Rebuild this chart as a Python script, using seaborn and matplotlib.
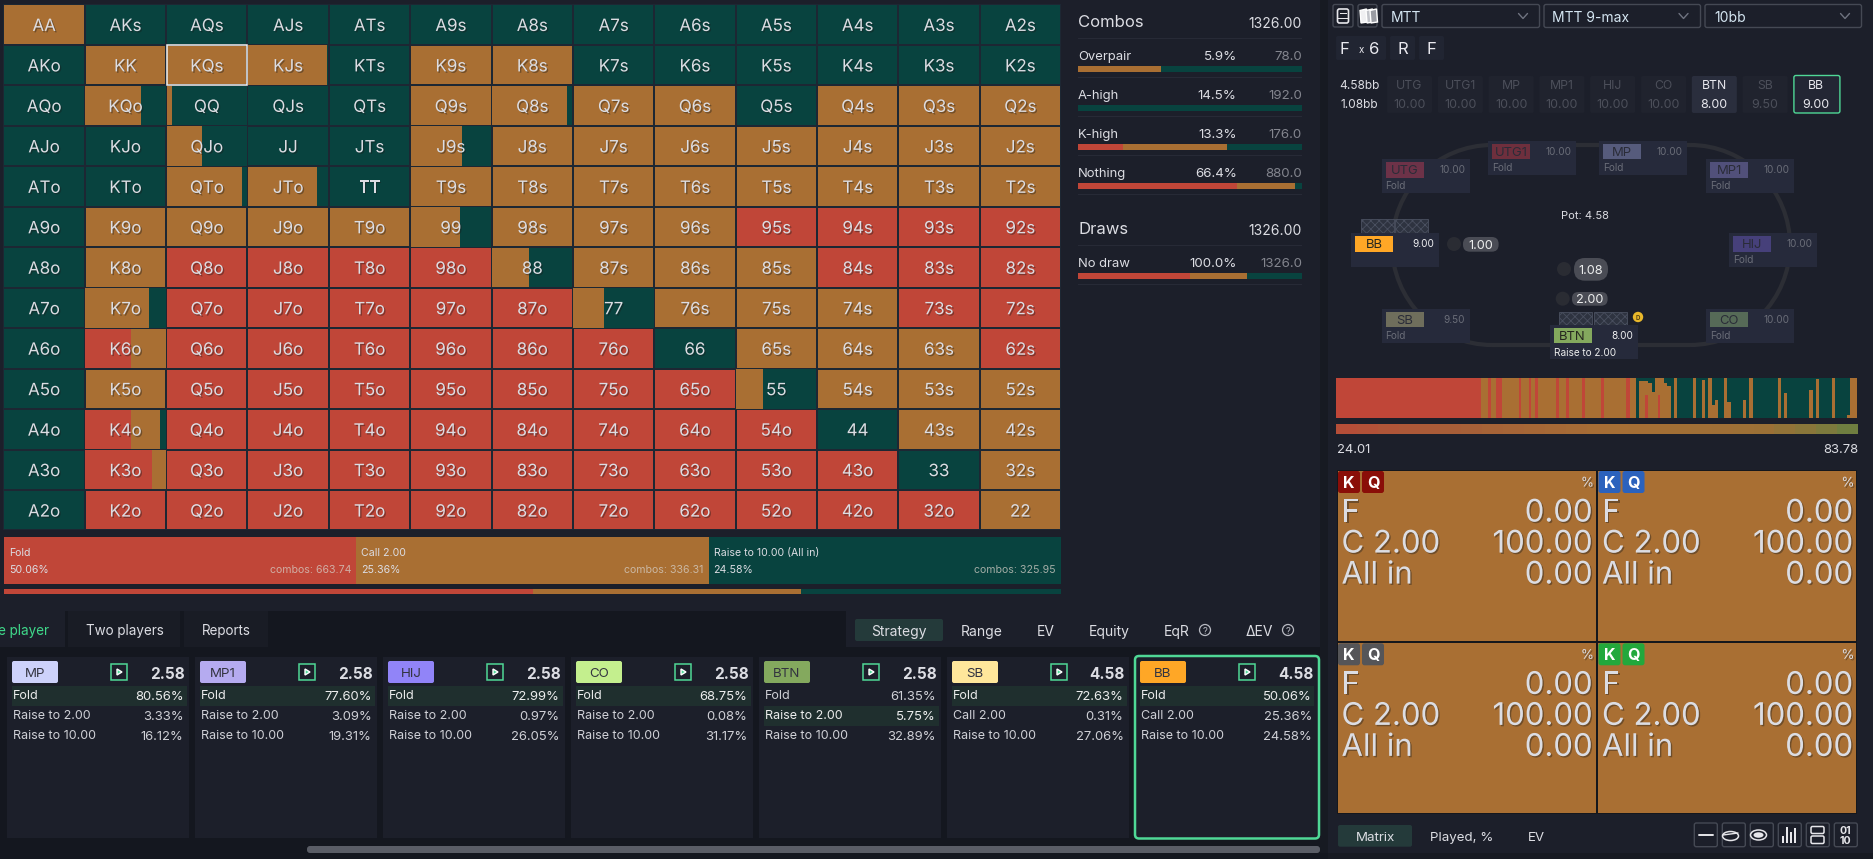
import numpy as np
import matplotlib
matplotlib.use("Agg")
import matplotlib.pyplot as plt
import matplotlib.patheffects as pe
from matplotlib.colors import ListedColormap, LinearSegmentedColormap
from matplotlib.patches import Rectangle, FancyBboxPatch, Circle, Ellipse, Polygon, Arc
import seaborn as sns

sns.set_theme(style="dark")
plt.rcParams["font.family"] = ["Inter", "DejaVu Sans"]
plt.rcParams["hatch.linewidth"] = 0.6

# ---- data ----
ranks = ["A", "K", "Q", "J", "T", "9", "8", "7", "6", "5", "4", "3", "2"]

# percent of each hand per action, rows and columns in rank order, raise is the rest
fold_grid = [
    [0, 0, 0, 0, 0, 0, 0, 0, 0, 0, 0, 0, 0],
    [0, 0, 0, 0, 0, 0, 0, 0, 0, 0, 0, 0, 0],
    [0, 0, 0, 0, 0, 0, 0, 0, 0, 0, 0, 0, 0],
    [0, 0, 0, 0, 0, 0, 0, 0, 0, 0, 0, 0, 0],
    [0, 0, 0, 0, 0, 0, 0, 0, 0, 0, 0, 0, 0],
    [0, 0, 0, 0, 0, 0, 0, 0, 0, 100, 100, 100, 100],
    [0, 0, 100, 100, 100, 100, 0, 0, 0, 0, 100, 100, 100],
    [0, 0, 100, 100, 100, 100, 100, 0, 0, 0, 0, 100, 100],
    [0, 57, 100, 100, 100, 100, 100, 100, 0, 0, 0, 0, 100],
    [0, 0, 100, 100, 100, 100, 100, 100, 100, 0, 0, 0, 0],
    [0, 57, 100, 100, 100, 100, 100, 100, 100, 100, 0, 0, 0],
    [0, 83, 100, 100, 100, 100, 100, 100, 100, 100, 100, 0, 0],
    [0, 100, 100, 100, 100, 100, 100, 100, 100, 100, 100, 100, 0],
]
call_grid = [
    [100, 0, 0, 0, 0, 0, 0, 0, 0, 0, 0, 0, 0],
    [0, 100, 100, 98, 0, 100, 100, 0, 0, 0, 0, 0, 0],
    [0, 70, 7, 0, 0, 100, 94, 100, 100, 0, 100, 100, 100],
    [0, 0, 44, 0, 0, 64, 100, 100, 100, 100, 100, 100, 100],
    [0, 0, 94, 86, 0, 100, 100, 100, 100, 100, 100, 100, 100],
    [0, 100, 100, 100, 100, 61, 100, 100, 100, 0, 0, 0, 0],
    [0, 100, 0, 0, 0, 0, 46, 100, 100, 100, 0, 0, 0],
    [0, 80, 0, 0, 0, 0, 0, 38, 100, 100, 100, 0, 0],
    [0, 43, 0, 0, 0, 0, 0, 0, 0, 100, 100, 100, 0],
    [0, 100, 0, 0, 0, 0, 0, 0, 0, 33, 100, 100, 100],
    [0, 36, 0, 0, 0, 0, 0, 0, 0, 0, 0, 100, 100],
    [0, 17, 0, 0, 0, 0, 0, 0, 0, 0, 0, 0, 100],
    [0, 0, 0, 0, 0, 0, 0, 0, 0, 0, 0, 0, 100],
]

strategy_names = ["Fold", "Call 2.00", "Raise to 10.00 (All in)"]
strategy_pct = [50.06, 25.36, 24.58]
strategy_combos = [663.74, 336.31, 325.95]

combo_rows = ["Overpair", "A-high", "K-high", "Nothing"]
combo_share = ["5.9%", "14.5%", "13.3%", "66.4%"]
combo_counts = ["78.0", "192.0", "176.0", "880.0"]
combo_mix = [[0, 37, 63], [0, 0, 100], [20, 46.5, 33.5], [71, 26, 3]]
draw_mix = [50, 25.4, 24.6]

card_positions = ["MP", "MP1", "HIJ", "CO", "BTN", "SB", "BB"]
card_pots = ["2.58", "2.58", "2.58", "2.58", "2.58", "4.58", "4.58"]
card_colors = ["#cdd2fa", "#b5abf0", "#9184f8", "#c4ef8e", "#84a95e", "#ffe79b", "#ffa726"]
card_actions = [
    ["Fold", "Raise to 2.00", "Raise to 10.00"],
    ["Fold", "Raise to 2.00", "Raise to 10.00"],
    ["Fold", "Raise to 2.00", "Raise to 10.00"],
    ["Fold", "Raise to 2.00", "Raise to 10.00"],
    ["Fold", "Raise to 2.00", "Raise to 10.00"],
    ["Fold", "Call 2.00", "Raise to 10.00"],
    ["Fold", "Call 2.00", "Raise to 10.00"],
]
card_values = [
    ["80.56%", "3.33%", "16.12%"],
    ["77.60%", "3.09%", "19.31%"],
    ["72.99%", "0.97%", "26.05%"],
    ["68.75%", "0.08%", "31.17%"],
    ["61.35%", "5.75%", "32.89%"],
    ["72.63%", "0.31%", "27.06%"],
    ["50.06%", "25.36%", "24.58%"],
]
card_best = [0, 0, 0, 0, 1, 0, 0]

seat_names = ["UTG", "UTG1", "MP", "MP1", "HIJ", "CO", "BTN", "SB", "BB"]
seat_stacks = ["10.00", "10.00", "10.00", "10.00", "10.00", "10.00", "8.00", "9.50", "9.00"]

# range strip: combos per column, with percent fold and call in that column
range_combos = [369, 18.5, 8, 13, 16, 41.5, 7, 18.5, 7, 8, 8, 47.5, 8, 16, 9, 32, 8, 40.5, 7, 56.5, 10, 16, 7,
                16, 7, 10.5, 7, 9, 6, 9, 9, 9, 7, 8, 42, 6, 15, 8, 8, 10, 8, 7, 16, 7, 10.5, 31, 7, 9, 9,
                64.5, 7, 8, 8, 56.5, 10, 7, 8, 33.5, 7, 31, 8, 17.5]
range_fold = [100, 0, 100, 0, 100, 0, 100, 0, 100, 0, 100, 0, 100, 0, 100, 0, 100, 0, 100, 0, 100, 0, 0,
              0, 58, 0, 0, 0, 58, 0, 0, 0, 0, 0, 0, 0, 0, 0, 0, 0, 0, 0, 0, 0, 0, 0, 0, 0, 0,
              0, 0, 0, 0, 0, 0, 0, 0, 0, 0, 0, 0, 0]
range_call = [0, 100, 0, 100, 0, 100, 0, 100, 0, 100, 0, 100, 0, 100, 0, 100, 0, 100, 0, 100, 0, 100, 0,
              92, 35, 87, 66, 100, 42, 100, 88, 80, 0, 100, 0, 100, 0, 95, 0, 100, 33, 45, 0, 100, 39, 0, 45, 0, 100,
              0, 100, 0, 62, 0, 70, 0, 97, 0, 100, 0, 7, 100]

ev_curve = [24.01, 27, 30, 33, 35, 38, 40, 43, 45, 47, 49, 51, 53, 55, 57, 59, 61, 63, 65, 67, 69, 72, 75, 79, 83.78]
ev_ends = ["24.01", "83.78"]

hand_suits = ["#8a0e08", "#2b62bd", "#555558", "#22a83c"]
hand_cards = ["K", "Q"]
hand_actions = ["F", "C 2.00", "All in"]
hand_values = ["0.00", "100.00", "0.00"]
hand_call = [[100, 100], [100, 100]]

# ---- colours ----
RED = "#c04638"
ORANGE = "#a96f33"
GREEN = "#08433f"
BG = "#1c1f2a"
DARK = "#14171f"
TEXT = "#dcdde3"
DIM = "#6a6d78"
ACCENT = "#4fd896"
action_colors = [RED, ORANGE, GREEN]

W, H = 1873, 859
fig = plt.figure(figsize=((W + 0.01) / 100, (H + 0.01) / 100), dpi=100, facecolor=BG)
shadow = [pe.SimplePatchShadow(offset=(1, -1), shadow_rgbFace="k", alpha=0.4), pe.Normal()]


def px_axes(x0, y0, x1, y1, z=1):
    a = fig.add_axes([x0 / W, 1 - y1 / H, (x1 - x0) / W, (y1 - y0) / H], zorder=z)
    a.patch.set_alpha(0)
    a.set_axis_off()
    return a


def mix_bar(x0, y0, x1, y1, values):
    a = px_axes(x0, y0, x1, y1, z=2)
    left = 0
    for v, c in zip(values, action_colors):
        a.barh(0.5, v, left=left, height=1, color=c, linewidth=0)
        left += v
    a.set_xlim(0, sum(values))
    a.set_ylim(0, 1)
    return a


bg = px_axes(0, 0, W, H, z=0)
bg.set_xlim(0, W)
bg.set_ylim(H, 0)
ui = px_axes(0, 0, W, H, z=5)
ui.set_xlim(0, W)
ui.set_ylim(H, 0)


def box(x0, y0, x1, y1, color, edge="none", lw=0, r=0, a=ui, **kw):
    if r:
        p = FancyBboxPatch((x0 + r, y0 + r), x1 - x0 - 2 * r, y1 - y0 - 2 * r,
                           boxstyle=f"round,pad={r},rounding_size={r}",
                           facecolor=color, edgecolor=edge, linewidth=lw, **kw)
    else:
        p = Rectangle((x0, y0), x1 - x0, y1 - y0, facecolor=color, edgecolor=edge, linewidth=lw, **kw)
    a.add_patch(p)
    return p


def txt(x, y, s, size=9, color=TEXT, ha="left", weight="normal", **kw):
    # va center leaves room for descenders, push down so capitals sit on y
    return ui.text(x, y + 0.16 * size, s, fontsize=size, color=color, ha=ha, va="center", weight=weight, **kw)


# background strips
box(1320, 0, 1328, H, "#171a22", a=bg)
box(0, 611, 846, 647, DARK, a=bg)
box(0, 647, 1320, H, DARK, a=bg)
box(0, 853, W, H, DARK, a=bg)
box(1328, 853, W, H, "#171a22", a=bg)

# ---- hand grid ----
labels = []
for i, r1 in enumerate(ranks):
    row = []
    for j, r2 in enumerate(ranks):
        if i == j:
            row.append(r1 + r2)
        elif j > i:
            row.append(r1 + r2 + "s")
        else:
            row.append(r2 + r1 + "o")
    labels.append(row)

fold_arr = np.array(fold_grid, dtype=float)
call_arr = np.array(call_grid, dtype=float)
raise_arr = 100 - fold_arr - call_arr
mix = np.stack([fold_arr, call_arr, raise_arr], axis=2)

ax = px_axes(3.4, 4.4, 1061, 530.5, z=2)
sns.heatmap(mix.argmax(axis=2), annot=np.array(labels), fmt="", cmap=ListedColormap(action_colors),
            vmin=0, vmax=2, cbar=False, linewidths=1.1, linecolor="#1d2733", ax=ax,
            xticklabels=False, yticklabels=False,
            annot_kws={"fontsize": 12.2, "color": TEXT, "path_effects": shadow})
for t in ax.texts:
    tx, ty = t.get_position()
    t.set_position((tx, ty + 0.045))
for i in range(13):
    for j in range(13):
        if mix[i, j].max() < 100:
            left = j + 0.007
            for k in range(3):
                w = mix[i, j, k] / 100 * 0.986
                ax.barh(i + 0.5, w, left=left, height=0.973, color=action_colors[k], linewidth=0, zorder=1.5)
                left += w
ax.set_axis_off()
ax.add_patch(Rectangle((2.006, 1.012), 0.988, 0.976, fill=False, edgecolor="#f2f2f2", linewidth=1.1, zorder=2))

# ---- strategy buttons under the grid ----
edges = [4, 356, 708.5, 1060.6]
for i in range(3):
    box(edges[i], 537, edges[i + 1], 583.7, action_colors[i], a=bg)
    txt(edges[i] + 5, 551.7, strategy_names[i], 7.6)
    txt(edges[i] + 5, 569, f"{strategy_pct[i]:.2f}%", 7.6)
    txt(edges[i + 1] - 5, 569, f"combos: {strategy_combos[i]:.2f}", 7.6, color="#d6d0c8", ha="right", alpha=0.75)
mix_bar(4, 589, 1060.6, 594, strategy_pct)

# ---- combos panel ----
TX0, TX1, PCT = 1078, 1302, 1236.7
txt(TX0, 21, "Combos", 12)
txt(TX1, 22, "1326.00", 10, ha="right")
box(TX0, 38, TX1, 39, "#272a36")
for i, name in enumerate(combo_rows):
    cy = 55 + i * 39
    txt(TX0, cy, name, 9.4)
    txt(PCT, cy, combo_share[i], 9.6, ha="right")
    txt(TX1, cy, combo_counts[i], 9.6, color="#83858e", ha="right")
    mix_bar(TX0, cy + 11, TX1, cy + 17, combo_mix[i])
    box(TX0, cy + 22, TX1, cy + 23, "#272a36")
txt(TX0, 228, "Draws", 12)
txt(TX1, 229, "1326.00", 10, ha="right")
box(TX0, 245, TX1, 246, "#272a36")
txt(TX0, 262, "No draw", 9.4)
txt(PCT, 262, "100.0%", 9.6, ha="right")
txt(TX1, 262, "1326.0", 9.6, color="#83858e", ha="right")
mix_bar(TX0, 273, TX1, 279, draw_mix)
box(TX0, 284, TX1, 285, "#272a36")

# ---- tabs ----
box(0, 611, 65, 647, BG, a=bg)
box(68, 611, 180, 647, "#191c25", a=bg)
box(184, 611, 268, 647, "#191c25", a=bg)
txt(49, 629, "One player", 9.7, color="#3fd98a", ha="right", clip_on=True)
txt(125, 629, "Two players", 9.7, ha="center")
txt(226, 629, "Reports", 9.7, ha="center")
box(855, 619, 943, 641, "#243a3a", r=2)
for cx, name in zip([899, 982, 1046, 1109, 1177, 1259], ["Strategy", "Range", "EV", "Equity", "EqR", "ΔEV"]):
    txt(cx, 630, name, 10, ha="center")
for cx in [1205, 1288]:
    ui.add_patch(Circle((cx, 630), 5.5, fill=False, edgecolor="#b8bac2", linewidth=0.9))
    txt(cx, 630, "?", 6.8, color="#b8bac2", ha="center")

# ---- action cards ----
for i, pos in enumerate(card_positions):
    L = 7 + i * 188
    R = L + 182 if i < 6 else 1320
    if i == 6:
        L = 1134
    box(L, 656.7, R, 838.5, BG, a=bg)
    if i == 6:
        box(L + 1, 656, R - 1, 838.5, BG, edge=ACCENT, lw=1.8, r=4, a=bg)
    ins = 6 if i == 6 else 5
    box(L + ins, 661, L + ins + 46, 683, card_colors[i], r=2)
    txt(L + ins + 23, 672, pos, 9.6, color="#333440", ha="center")
    box(L + ins + 99, 664, L + ins + 115, 680, "none", edge=ACCENT, lw=1.1)
    ui.add_patch(Polygon([(L + ins + 105, 669), (L + ins + 105, 675), (L + ins + 110, 672)], facecolor=ACCENT))
    txt(R - 4 if i < 6 else R - 6, 673, card_pots[i], 11, ha="right", weight="bold")
    box(L + ins, 686 + card_best[i] * 20, R - 2 if i < 6 else R - 6, 706 + card_best[i] * 20, "#1f2f2e", a=bg)
    for k in range(3):
        on = k == card_best[i]
        txt(L + ins + 0.5, 695 + k * 20, card_actions[i][k], 9, color="#eceded" if on else "#cfd0d6")
        txt((R - 5.5 if i < 6 else R - 8), 695 + k * 20, card_values[i][k], 9.4, color="#eceded" if on else "#cfd0d6", ha="right")
box(307, 846, 1320, 853, "#5a5d66", r=3, a=bg)

# ---- top controls, right panel ----
box(1333, 4.5, 1353, 27, "none", edge="#454954", lw=1, r=2)
box(1337.5, 9, 1348.5, 23, "none", edge="#e6e6ea", lw=1.2, r=2)
box(1339.5, 13, 1346.5, 14, "#e6e6ea")
box(1337.5, 18, 1348.5, 19, "#e6e6ea")
box(1358, 4.5, 1377, 27, "none", edge="#454954", lw=1, r=2)
for dx, c in zip([0, 6, 10], ["#f0f0f2", "#c2c4ca", "#9a9ca3"]):
    ui.add_patch(Polygon([(1360 + dx, 10.5), (1366.5 + dx, 9), (1367.5 + dx, 22), (1361 + dx, 23)], facecolor=c))
for x0, x1, tx, chev, name in [(1382, 1539.5, 1390.5, 1523, "MTT"),
                               (1544, 1700.5, 1551.5, 1683.5, "MTT 9-max"),
                               (1705, 1861.5, 1714, 1845, "10bb")]:
    box(x0, 4.5, x1, 27.5, "none", edge="#454954", lw=1, r=2)
    txt(tx, 16, name, 10, color="#d5e6f2")
    ui.plot([chev - 4.5, chev, chev + 4.5], [13.5, 18.5, 13.5], color="#6f7380", lw=1)
for x0, x1 in [(1336, 1386), (1390, 1415), (1419, 1444)]:
    box(x0, 36, x1, 60, "#212532", r=2)
txt(1344, 48, "F", 12, color="#eaeaf0", ha="center")
txt(1361, 49, "x", 7, color="#eaeaf0", ha="center")
txt(1374, 48, "6", 12, color="#eaeaf0", ha="center")
txt(1402.5, 48, "R", 12, color="#eaeaf0", ha="center")
txt(1431.5, 48, "F", 12, color="#eaeaf0", ha="center")
txt(1359, 85, "4.58bb", 8.6, ha="center")
txt(1359, 104, "1.08bb", 8.6, ha="center")
for i, name in enumerate(seat_names):
    x0 = 1387 + i * 50.8
    active = name in ("BTN", "BB")
    if name == "BB":
        box(x0 + 0.5, 75.5, x0 + 46.5, 113, "#232634", edge=ACCENT, lw=1, r=2)
    else:
        box(x0, 76, x0 + 45, 113, "#2a2e3d" if active else "#20232e", r=2)
    col = "#e8e8ee" if active else "#4c4f5a"
    txt(x0 + 22.5, 85, name, 8.8, color=col, ha="center")
    txt(x0 + 22.5, 104, seat_stacks[i], 9, color=col, ha="center")

# ---- table ----
TABLE = "#2c2e35"
ui.add_patch(Arc((1492, 245), 200, 200, theta1=90, theta2=270, edgecolor=TABLE, linewidth=3))
ui.add_patch(Arc((1690, 245), 200, 200, theta1=270, theta2=450, edgecolor=TABLE, linewidth=3))
ui.plot([1492, 1690], [145, 145], color=TABLE, lw=3, zorder=1)
ui.plot([1492, 1690], [345, 345], color=TABLE, lw=3, zorder=1)
seat_left = [1381.6, 1488, 1599.4, 1706, 1729, 1706, 1549.5, 1381.6, 1351]
seat_top = [159.3, 140.7, 140.7, 159.3, 233.3, 309, 325, 309, 233.3]
seat_badge = ["#6d3248", "#6e2f3d", "#565b7c", "#51507a", "#46407a", "#566a57", "#84a95e", "#6f6e5c", "#ffa726"]
for i, name in enumerate(seat_names):
    x, y = seat_left[i], seat_top[i]
    lit = name in ("BTN", "BB")
    box(x, y, x + 88, y + 34, "#262a3b", zorder=1.2)
    box(x + 4, y + 3, x + 42, y + 18.3, seat_badge[i], zorder=1.3)
    txt(x + 23, y + 10.5, name, 9.4, color="#2a2c38" if not lit else "#26281f", ha="center")
    txt(x + 83.5, y + 10, seat_stacks[i], 7.2, color="#f0f0f2" if lit else "#6a6d78", ha="right")
    if name == "BTN":
        txt(x + 4, y + 27, "Raise to 2.00", 7.2, color="#eceded")
    elif name != "BB":
        txt(x + 4, y + 26, "Fold", 7.2, color="#6a6d78")
for x0, y0 in [(1361, 219.3), (1394.5, 219.3), (1559, 312), (1594, 312)]:
    ui.add_patch(Rectangle((x0, y0), 33, 14, facecolor="#2e3340", edgecolor="#4a5060", linewidth=0.6,
                           hatch="xxxx"))
ui.add_patch(Circle((1638, 317), 5.2, facecolor="#e9b82b", edgecolor="none"))
txt(1638, 317, "D", 4.4, color="#5a4510", ha="center", weight="bold")
txt(1584.5, 215, "Pot: 4.58", 8, ha="center")
for cx, cy, x0, x1, y0, y1, s in [(1454, 244, 1463, 1498.6, 237, 251.7, "1.00"),
                                  (1564, 269, 1574, 1608, 258, 280.7, "1.08"),
                                  (1562.7, 298.7, 1572, 1607.6, 292, 305.7, "2.00")]:
    ui.add_patch(Circle((cx, cy), 7, facecolor="#2a2c33", edgecolor="none"))
    box(x0, y0, x1, y1, "#4a4c55", r=(y1 - y0) / 2 - 0.5)
    txt((x0 + x1) / 2, (y0 + y1) / 2, s, 9.2, color="#eceded", ha="center")

# ---- range strip and ev strip ----
rax = px_axes(1336, 378, 1857, 418, z=2)
cw = np.array(range_combos, dtype=float)
cf = np.array(range_fold, dtype=float)
cc = np.array(range_call, dtype=float)
starts = np.concatenate([[0], np.cumsum(cw)[:-1]])
rax.bar(starts, 100, width=cw, align="edge", color=GREEN, linewidth=0)
rax.bar(starts, cf + cc, width=cw, align="edge", color=ORANGE, linewidth=0)
rax.bar(starts, cf, width=cw, align="edge", color=RED, linewidth=0)
rax.set_xlim(0, cw.sum())
rax.set_ylim(0, 100)
rax.set_axis_off()

eax = px_axes(1336, 424, 1858, 434, z=2)
ev_cmap = LinearSegmentedColormap.from_list("ev", ["#b54e38", "#a65f38", "#a66e35", "#9c7036", "#6f7e40"])
sns.heatmap([ev_curve], cmap=ev_cmap, vmin=ev_curve[0], vmax=ev_curve[-1], cbar=False,
            xticklabels=False, yticklabels=False, ax=eax)
eax.set_axis_off()
txt(1337, 448.7, ev_ends[0], 9.4)
txt(1858, 448.7, ev_ends[1], 9.4, ha="right")

# ---- selected hand matrix ----
max_ = px_axes(1337, 470, 1857, 814, z=2)
sns.heatmap(hand_call, cmap=ListedColormap([ORANGE]), cbar=False, linewidths=1.4, linecolor="#15171c",
            xticklabels=False, yticklabels=False, ax=max_)
max_.set_axis_off()
for i, suit in enumerate(hand_suits):
    ox = (i % 2) * 260.5
    oy = (i // 2) * 172.3
    for k, card in enumerate(hand_cards):
        box(1338 + ox + k * 24, 471 + oy, 1360 + ox + k * 24, 493 + oy, suit, r=2.5)
        txt(1349 + ox + k * 24, 481.8 + oy, card, 11.6, color="#ffffff", ha="center", weight="bold")
    txt(1594 + ox, 482 + oy, "%", 9.6, ha="right", path_effects=shadow)
    for k in range(3):
        ly = 510 + oy + k * 31
        txt(1341.5 + ox, ly, hand_actions[k], 22.4, path_effects=shadow)
        txt(1592.5 + ox, ly, hand_values[k], 22.4, ha="right", path_effects=shadow)

box(1338, 825, 1412, 846.7, "#243a3a", r=2)
txt(1375, 836, "Matrix", 9.6, ha="center")
txt(1461.6, 836, "Played, %", 9.6, ha="center")
txt(1536, 836, "EV", 9.6, ha="center")
for i in range(6):
    box(1694.3 + i * 28, 823, 1717.3 + i * 28, 846.7, "none", edge="#454954", lw=1, r=2)
ui.plot([1698.5, 1712.5], [835.5, 835.5], color="#e6e6ea", lw=1.4)
ui.add_patch(Ellipse((1730.5, 836), 16, 9, fill=False, edgecolor="#e6e6ea", linewidth=1.1))
ui.plot([1723, 1738], [835, 833], color="#e6e6ea", lw=1)
ui.add_patch(Ellipse((1758.5, 835), 16, 10, fill=False, edgecolor="#e6e6ea", linewidth=1.1))
ui.add_patch(Ellipse((1758.5, 835), 10, 5.5, facecolor="#e6e6ea", edgecolor="none"))
for dx, top in zip([0, 4, 8, 12], [836, 827, 832, 828]):
    box(1782 + dx, top, 1784 + dx, 843.5, "#e6e6ea")
box(1811, 826.5, 1824, 833.5, "none", edge="#e6e6ea", lw=1.1, r=1.5)
box(1811, 836, 1824, 843.5, "none", edge="#e6e6ea", lw=1.1, r=1.5)
txt(1845.5, 830, "01", 7.6, color="#e6e6ea", ha="center", weight="bold")
txt(1845.5, 840, "10", 7.6, color="#e6e6ea", ha="center", weight="bold")

fig.savefig("out.png", dpi=100, facecolor=BG)
